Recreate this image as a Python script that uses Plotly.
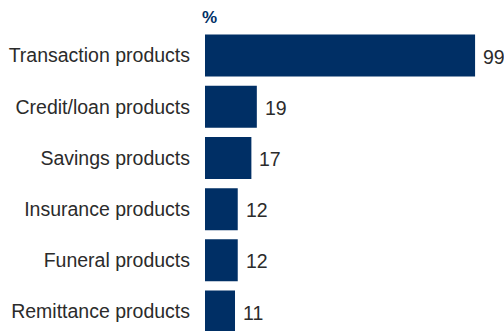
import plotly.graph_objects as go

categories = ["Transaction products", "Credit/loan products", "Savings products",
              "Insurance products", "Funeral products", "Remittance products"]
values = [99, 19, 17, 12, 12, 11]

bar_color = "#002f65"
text_color = "#2b2b2b"
font_family = "Liberation Sans Narrow, Arial Narrow, Liberation Sans, Arial, sans-serif"

fig = go.Figure(go.Bar(
    y=categories, x=values, orientation="h",
    marker=dict(color=bar_color, line=dict(width=0)),
    hoverinfo="skip",
))

for c, v in zip(categories, values):
    fig.add_annotation(x=v, y=c, text=str(v), showarrow=False,
                       xanchor="left", xshift=6, yshift=-1,
                       font=dict(family=font_family, size=19.5, color=text_color))

fig.add_annotation(x=0, y=1, xref="paper", yref="paper", text="<b>%</b>",
                   showarrow=False, xanchor="left", yanchor="bottom",
                   xshift=-5, yshift=1,
                   font=dict(family="Liberation Sans, Arial, sans-serif", size=17, color=bar_color))

fig.update_layout(
    width=504, height=331,
    margin=dict(l=205, r=0, t=30, b=0, autoexpand=False),
    paper_bgcolor="white", plot_bgcolor="white",
    bargap=0.18,
    showlegend=False,
    font=dict(family=font_family, size=19.5, color=text_color),
    xaxis=dict(range=[0, 109.6], visible=False, fixedrange=True, automargin=False),
    yaxis=dict(categoryorder="array", categoryarray=categories, automargin=False,
               range=[5.38, -0.5], showgrid=False, zeroline=False, showline=False,
               ticks="", ticklabelstandoff=14, fixedrange=True,
               tickfont=dict(family=font_family, size=19.5, color=text_color)),
)

fig.write_html("out.html")
